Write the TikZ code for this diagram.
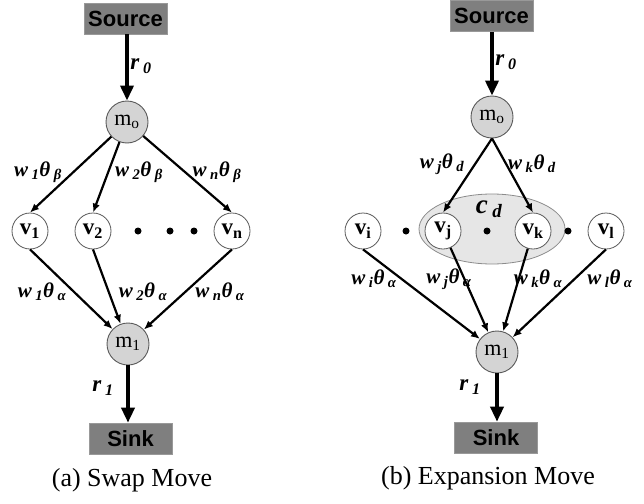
\documentclass[tikz,border=0pt]{standalone}
\usepackage{fontspec}
\setmainfont{Liberation Serif}
\newfontfamily\headfont{Liberation Sans}
\usetikzlibrary{arrows.meta,shapes.geometric}

\definecolor{termgray}{HTML}{7F7F7F}
\definecolor{mgray}{HTML}{D4D4D4}
\definecolor{rimgray}{HTML}{5A5A5A}
\definecolor{clustergray}{HTML}{E6E6E6}

\newcommand\wth[3]{\textbf{\textit{#1\,\textsubscript{#2}θ\,\textsubscript{#3}}}}

\tikzset{
  terminal/.style={rectangle, draw=black!40, line width=0.6pt, fill=termgray,
    minimum width=83pt, minimum height=31pt, inner sep=0pt,
    font=\headfont\bfseries\fontsize{22}{22}\selectfont},
  mnode/.style={circle, draw=rimgray, line width=0.9pt, fill=mgray,
    minimum size=42pt, inner sep=0pt, font=\fontsize{22}{22}\selectfont},
  vnode/.style={circle, draw=rimgray, line width=0.8pt, fill=white,
    minimum size=36pt, inner sep=0pt, font=\bfseries\fontsize{23}{23}\selectfont},
  cluster/.style={ellipse, draw=black!45, line width=0.8pt, fill=clustergray,
    minimum width=146pt, minimum height=70pt, inner sep=0pt},
  flow/.style={line width=3.5pt, -{Triangle[length=15pt,width=13pt]}},
  edge/.style={line width=2.2pt, -{Latex[length=9pt,width=7.5pt]}},
  wlab/.style={inner sep=0pt, font=\fontsize{21}{21}\selectfont},
  rlab/.style={inner sep=0pt, font=\bfseries\itshape\fontsize{23}{23}\selectfont},
  blob/.style={circle, fill=black, minimum size=7pt, inner sep=0pt},
  caption/.style={inner sep=0pt, font=\fontsize{26}{26}\selectfont}
}

\begin{document}
\begin{tikzpicture}[x=1pt,y=-1pt]
\useasboundingbox (0,0) rectangle (644,503);

% ---------------- (a) swap move ----------------
\node[terminal] (srcA) at (125.5,18.5) {Source};
\node[mnode] (m0A) at (127,122) {m\textsubscript{o}};
\node[vnode] (v1) at (30,231) {v\textsubscript{1}};
\node[vnode] (v2) at (93,231) {v\textsubscript{2}};
\node[vnode] (vn) at (232,231) {v\textsubscript{n}};
\node[blob] (dA1) at (138,231) {};
\node[blob] (dA2) at (170,231) {};
\node[blob] (dA3) at (194,231) {};
\node[mnode] (m1A) at (128,344) {m\textsubscript{1}};
\node[terminal] (sinkA) at (130.5,438.5) {Sink};

\draw[flow] (srcA.south -| m0A) -- (m0A);
\draw[edge] (m0A) -- (v1.north);
\draw[edge] (m0A) -- (v2.north);
\draw[edge] (m0A) -- (vn.north);
\draw[edge] (v1.south) -- (m1A);
\draw[edge] (v2.south) -- (m1A);
\draw[edge] (vn.south) -- (m1A);
\draw[flow] (m1A) -- (m1A |- sinkA.north);

\node[rlab] (r0A) at (141,66) {r\,\textsubscript{0}};
\node[rlab] (r1A) at (103,388) {r\,\textsubscript{1}};
\node[wlab] (lbA1) at (38,172) {\wth{w}{1}{β}};
\node[wlab] (lbA2) at (139,172) {\wth{w}{2}{β}};
\node[wlab] (lbAn) at (217,172) {\wth{w}{n}{β}};
\node[wlab] (laA1) at (42,292) {\wth{w}{1}{α}};
\node[wlab] (laA2) at (143,292) {\wth{w}{2}{α}};
\node[wlab] (laAn) at (220,292) {\wth{w}{n}{α}};

\node[caption] (capA) at (132,480) {(a) Swap Move};

% ---------------- (b) expansion move ----------------
\node[cluster] (cd) at (492,229) {};
\node[terminal] (srcB) at (491.5,16) {Source};
\node[mnode] (m0B) at (492,117) {m\textsubscript{o}};
\node[vnode] (vi) at (363,231) {v\textsubscript{i}};
\node[vnode] (vj) at (443,231) {v\textsubscript{j}};
\node[vnode] (vk) at (533,231) {v\textsubscript{k}};
\node[vnode] (vl) at (606,231) {v\textsubscript{l}};
\node[blob] (dB1) at (406,231) {};
\node[blob] (dB2) at (487,231) {};
\node[blob] (dB3) at (568,231) {};
\node[mnode] (m1B) at (497,352) {m\textsubscript{1}};
\node[terminal] (sinkB) at (496,437.5) {Sink};

\draw[flow] (srcB.south -| m0B) -- (m0B);
\draw[edge] (m0B.south) -- (vj.north);
\draw[edge] (m0B.south) -- (vk.north);
\draw[edge] (vi.south) -- (m1B);
\draw[edge] (vj) -- (m1B);
\draw[edge] (vk) -- (m1B);
\draw[edge] (vl.south) -- (m1B);
\draw[flow] (m1B) -- (m1B |- sinkB.north);

\node[inner sep=0pt, font=\bfseries\itshape\fontsize{27}{27}\selectfont] (cdlab) at (489,209) {c\,\textsubscript{d}};
\node[rlab] (r0B) at (506,62) {r\,\textsubscript{0}};
\node[rlab] (r1B) at (470,387) {r\,\textsubscript{1}};
\node[wlab] (ldj) at (442,164) {\wth{w}{j}{d}};
\node[wlab] (ldk) at (532,164) {\wth{w}{k}{d}};
\node[wlab] (lai) at (374,279) {\wth{w}{i}{α}};
\node[wlab] (laj) at (449,279) {\wth{w}{j}{α}};
\node[wlab] (lak) at (538,279) {\wth{w}{k}{α}};
\node[wlab] (lal) at (610,279) {\wth{w}{l}{α}};

\node[caption] (capB) at (488,478) {(b) Expansion Move};
\end{tikzpicture}
\end{document}
